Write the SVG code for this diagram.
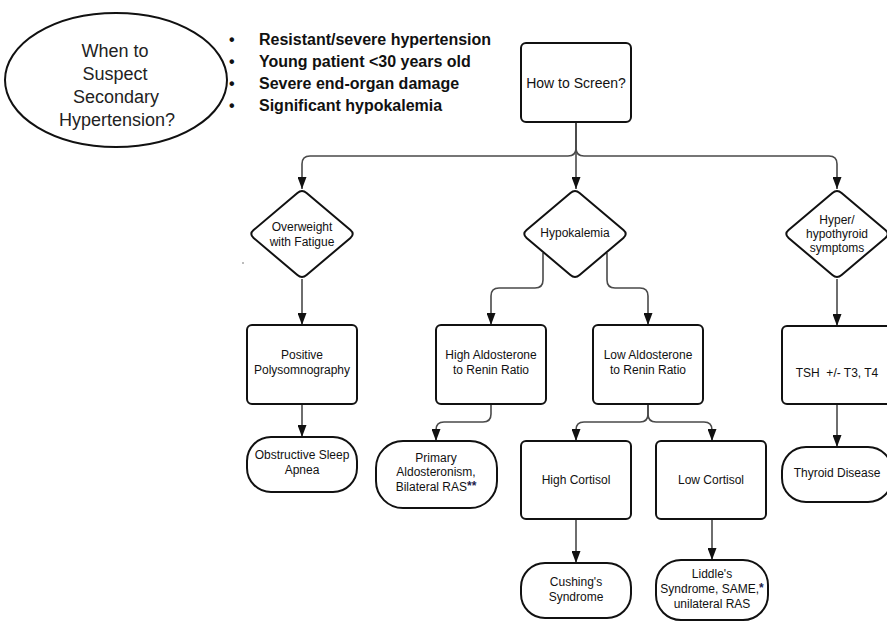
<svg xmlns="http://www.w3.org/2000/svg" width="887" height="623" viewBox="0 0 887 623">
<defs>
<style>
.box{fill:#fff;stroke:#111;stroke-width:2}
.t{font-family:"Liberation Sans",Arial,sans-serif;font-size:12px;fill:#111;text-anchor:middle}
.c{fill:none;stroke:#4a4a4a;stroke-width:1.6}
.b{font-family:"Liberation Sans",Arial,sans-serif;font-size:16px;font-weight:bold;fill:#111}
.e{font-family:"Liberation Sans",Arial,sans-serif;font-size:18px;fill:#222;text-anchor:middle}
.ast{font-weight:bold;fill:#1c1c4c}
</style>
<marker id="ah" viewBox="0 0 12 9" refX="12" refY="4.5" markerWidth="12" markerHeight="9" markerUnits="userSpaceOnUse" orient="auto">
<path d="M0,0 L12,4.5 L0,9 z" fill="#111"/>
</marker>
<path id="dia" d="M-4.6,-41.1 Q0,-45 4.6,-41.1 L48.4,-3.9 Q53,0 48.4,3.9 L4.6,41.1 Q0,45 -4.6,41.1 L-48.4,3.9 Q-53,0 -48.4,-3.9 Z"/>
</defs>
<rect width="887" height="623" fill="#fff"/>

<g id="connectors">
<path class="c" d="M576,122 V148 Q576,156 568,156 H310 Q302,156 302,164 V189" marker-end="url(#ah)"/>
<path class="c" d="M576,122 V189" marker-end="url(#ah)"/>
<path class="c" d="M576,122 V148 Q576,156 584,156 H829 Q837,156 837,164 V189" marker-end="url(#ah)"/>
<path class="c" d="M302,279 V325" marker-end="url(#ah)"/>
<path class="c" d="M302,404 V437" marker-end="url(#ah)"/>
<path class="c" d="M543,253 V280 Q543,288 535,288 H499 Q491,288 491,296 V325" marker-end="url(#ah)"/>
<path class="c" d="M607,253 V280 Q607,288 615,288 H640 Q648,288 648,296 V325" marker-end="url(#ah)"/>
<path class="c" d="M491,404 V414 Q491,422 483,422 H444 Q436,422 436,430 V441" marker-end="url(#ah)"/>
<path class="c" d="M648,404 V414 Q648,422 640,422 H584 Q576,422 576,430 V441" marker-end="url(#ah)"/>
<path class="c" d="M648,404 V414 Q648,422 656,422 H704 Q712,422 712,430 V441" marker-end="url(#ah)"/>
<path class="c" d="M576,519 V563" marker-end="url(#ah)"/>
<path class="c" d="M712,519 V560" marker-end="url(#ah)"/>
<path class="c" d="M837,279 V326" marker-end="url(#ah)"/>
<path class="c" d="M837,404 V447" marker-end="url(#ah)"/>
</g>

<g id="suspect">
<ellipse cx="116" cy="80" rx="111" ry="67" fill="#fff" stroke="#111" stroke-width="2"/>
<text class="e" x="115" y="57">When to</text>
<text class="e" x="115" y="80">Suspect</text>
<text class="e" x="116" y="103">Secondary</text>
<text class="e" x="117" y="126">Hypertension?</text>
</g>

<g id="criteria">
<text class="b" x="229" y="45">•</text>
<text class="b" x="259" y="45">Resistant/severe hypertension</text>
<text class="b" x="229" y="67">•</text>
<text class="b" x="259" y="67">Young patient &lt;30 years old</text>
<text class="b" x="229" y="89">•</text>
<text class="b" x="259" y="89">Severe end-organ damage</text>
<text class="b" x="229" y="111">•</text>
<text class="b" x="259" y="111">Significant hypokalemia</text>
</g>

<g id="screen">
<rect class="box" x="521" y="43" width="110" height="79" rx="5"/>
<text class="t" x="576" y="88" style="font-size:14px">How to Screen?</text>
</g>

<g id="overweight">
<use href="#dia" class="box" x="302" y="234"/>
<text class="t" x="302" y="231">Overweight</text>
<text class="t" x="302" y="246">with Fatigue</text>
</g>

<g id="hypokalemia">
<use href="#dia" class="box" x="575" y="234"/>
<text class="t" x="575" y="237">Hypokalemia</text>
</g>

<g id="thyroid-symptoms">
<use href="#dia" class="box" x="837" y="234"/>
<text class="t" x="837" y="224">Hyper/</text>
<text class="t" x="837" y="238">hypothyroid</text>
<text class="t" x="837" y="252">symptoms</text>
</g>

<g id="polysomnography">
<rect class="box" x="247" y="325" width="110" height="79" rx="5"/>
<text class="t" x="302" y="359">Positive</text>
<text class="t" x="302" y="374">Polysomnography</text>
</g>

<g id="high-aldo">
<rect class="box" x="436" y="325" width="110" height="79" rx="5"/>
<text class="t" x="491" y="359">High Aldosterone</text>
<text class="t" x="491" y="374">to Renin Ratio</text>
</g>

<g id="low-aldo">
<rect class="box" x="593" y="325" width="110" height="79" rx="5"/>
<text class="t" x="648" y="359">Low Aldosterone</text>
<text class="t" x="648" y="374">to Renin Ratio</text>
</g>

<g id="tsh">
<rect class="box" x="782" y="326" width="110" height="78" rx="5"/>
<text class="t" x="837" y="377" xml:space="preserve">TSH  +/- T3, T4</text>
</g>

<g id="osa">
<rect class="box" x="247" y="437" width="110" height="55" rx="24"/>
<text class="t" x="302" y="459">Obstructive Sleep</text>
<text class="t" x="302" y="474">Apnea</text>
</g>

<g id="primary-aldo">
<rect class="box" x="376" y="441" width="121" height="67" rx="27"/>
<text class="t" x="436" y="462">Primary</text>
<text class="t" x="436" y="476">Aldosteronism,</text>
<text class="t" x="436" y="491">Bilateral RAS<tspan class="ast" dy="-1">**</tspan></text>
</g>

<g id="high-cortisol">
<rect class="box" x="521" y="441" width="110" height="78" rx="5"/>
<text class="t" x="576" y="484">High Cortisol</text>
</g>

<g id="low-cortisol">
<rect class="box" x="656" y="441" width="110" height="78" rx="5"/>
<text class="t" x="711" y="484">Low Cortisol</text>
</g>

<g id="cushing">
<rect class="box" x="521" y="563" width="110" height="55" rx="24"/>
<text class="t" x="576" y="586">Cushing's</text>
<text class="t" x="576" y="601">Syndrome</text>
</g>

<g id="liddle">
<rect class="box" x="656" y="560" width="112" height="60" rx="25"/>
<text class="t" x="712" y="578">Liddle's</text>
<text class="t" x="712" y="593">Syndrome, SAME,<tspan class="ast" dy="-1">*</tspan></text>
<text class="t" x="712" y="608">unilateral RAS</text>
</g>

<g id="thyroid-disease">
<rect class="box" x="782" y="447" width="110" height="55" rx="24"/>
<text class="t" x="837" y="477">Thyroid Disease</text>
</g>

<circle cx="243" cy="263" r="0.8" fill="#666"/>
</svg>
